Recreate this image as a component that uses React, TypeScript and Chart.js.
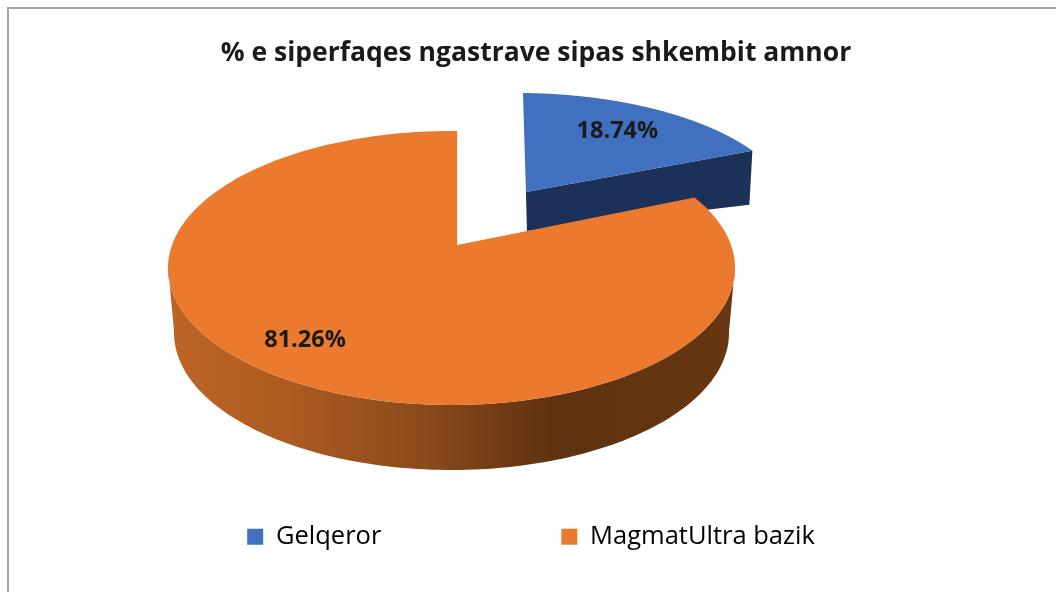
import React, { useEffect, useRef } from "react";
import { Chart, registerables } from "chart.js";

Chart.register(...registerables);

const categories = ["Gelqeror", "MagmatUltra bazik"];
const shares = [18.74, 81.26];
const percentLabels = ["18.74%", "81.26%"];
const faceColors = ["#4170C1", "#EB7A2F"];
const titleText = "% e siperfaqes ngastrave sipas shkembit amnor";

type Geo = { cx: number; cy: number; rx: number; ry: number; depthOuter: number; skew: number };

// normalised position of the apex inside the ellipse (perspective shift)
const AX = 0.02;
const AY = -0.168;
const GEOS: Geo[] = [
  { cx: 520.5, cy: 212, rx: 272, ry: 119, depthOuter: 54, skew: 0.03 },
  { cx: 451.5, cy: 268, rx: 283.5, ry: 137, depthOuter: 65, skew: 0 },
];

function apex(g: Geo) {
  return { x: g.cx + g.rx * AX, y: g.cy + g.ry * AY };
}

function pt(g: Geo, angle: number) {
  const dx = Math.cos(angle);
  const dy = Math.sin(angle);
  const ad = AX * dx + AY * dy;
  const s = -ad + Math.sqrt(ad * ad + 1 - (AX * AX + AY * AY));
  const y = g.cy + g.ry * (AY + s * dy);
  const a = apex(g);
  return { x: g.cx + g.rx * (AX + s * dx) - g.skew * (a.y - y), y };
}

const legendPlacement = {
  id: "legendPlacement",
  afterLayout(chart: any) {
    const legend = chart.legend;
    const pad = legend.options.labels.padding;
    legend.top = 524 - pad;
    legend.bottom = legend.top + legend.height;
    legend.left -= 5;
    legend.right -= 5;
  },
};

const pie3d = {
  id: "pie3d",
  afterDatasetsDraw(chart: any) {
    const ctx = chart.ctx as CanvasRenderingContext2D;
    const arcs = chart.getDatasetMeta(0).data as any[];
    const N = 240;
    const sample = (i: number) => {
      const a = arcs[i];
      const out = [];
      for (let k = 0; k <= N; k++) {
        out.push(pt(GEOS[i], a.startAngle + ((a.endAngle - a.startAngle) * k) / N));
      }
      return out;
    };
    ctx.save();
    // Blue slice: inner wall then face
    {
      const g = GEOS[0];
      const p = sample(0);
      const { x: ax, y: ay } = apex(g);
      const end = p[p.length - 1];
      ctx.fillStyle = "#1B3158";
      ctx.beginPath();
      ctx.moveTo(ax, ay);
      ctx.lineTo(end.x, end.y);
      ctx.lineTo(end.x - 3, end.y + g.depthOuter);
      ctx.lineTo(ax + 1, ay + 39);
      ctx.closePath();
      ctx.fill();
      ctx.fillStyle = faceColors[0];
      ctx.beginPath();
      ctx.moveTo(ax, ay);
      p.forEach((q) => ctx.lineTo(q.x, q.y));
      ctx.closePath();
      ctx.fill();
    }
    // Orange slice: outer wall then face
    {
      const g = GEOS[1];
      const p = sample(1);
      const { x: ax, y: ay } = apex(g);
      const grad = ctx.createLinearGradient(g.cx - g.rx, 0, g.cx + g.rx, 0);
      grad.addColorStop(0, "#BD6526");
      grad.addColorStop(0.2, "#AE5C22");
      grad.addColorStop(0.45, "#8A4A1B");
      grad.addColorStop(0.68, "#5F3210");
      grad.addColorStop(1, "#663711");
      ctx.fillStyle = grad;
      const front = p.filter((q) => q.y >= g.cy - 2);
      ctx.beginPath();
      front.forEach((q, i) => (i ? ctx.lineTo(q.x, q.y) : ctx.moveTo(q.x, q.y)));
      for (let i = front.length - 1; i >= 0; i--) {
        const q = front[i];
        const shrink = (q.x - g.cx) / g.rx;
        ctx.lineTo(q.x - 6 * shrink, q.y + g.depthOuter);
      }
      ctx.closePath();
      ctx.fill();
      ctx.fillStyle = faceColors[1];
      ctx.beginPath();
      ctx.moveTo(ax, ay);
      p.forEach((q) => ctx.lineTo(q.x, q.y));
      ctx.closePath();
      ctx.fill();
    }
    // Value labels, placed from each slice's mid angle
    ctx.font = "bold 23.5px 'Open Sans'";
    ctx.fillStyle = "#1A1A1A";
    ctx.textAlign = "center";
    ctx.textBaseline = "middle";
    const labelFactor = [0.73, 0.77];
    const labelAngleShift = [0, 0.068];
    arcs.forEach((a, i) => {
      const g = GEOS[i];
      const mid = (a.startAngle + a.endAngle) / 2 + labelAngleShift[i];
      const q = pt(g, mid);
      const { x: ax, y: ay } = apex(g);
      ctx.fillText(percentLabels[i], ax + (q.x - ax) * labelFactor[i], ay + (q.y - ay) * labelFactor[i]);
    });
    ctx.restore();
    // Frame: top and left lines only
    ctx.save();
    ctx.strokeStyle = "#A6A6A6";
    ctx.lineWidth = 2;
    ctx.beginPath();
    ctx.moveTo(8, 592);
    ctx.lineTo(8, 8);
    ctx.lineTo(1056, 8);
    ctx.stroke();
    ctx.restore();
  },
};

export default function App() {
  const ref = useRef<HTMLCanvasElement>(null);
  useEffect(() => {
    document.body.style.margin = "0";
    const chart = new Chart(ref.current!, {
      type: "pie",
      data: {
        labels: categories,
        datasets: [
          {
            data: shares,
            backgroundColor: "rgba(0,0,0,0)",
            borderWidth: 0,
          },
        ],
      },
      options: {
        responsive: false,
        animation: false,
        layout: { padding: { top: 38, left: 16 } },
        plugins: {
          title: {
            display: true,
            text: titleText,
            color: "#1A1A1A",
            font: { family: "'Open Sans'", size: 26.5, weight: "bold" },
            padding: { top: 0, bottom: 4 },
          },
          legend: {
            position: "bottom",
            labels: {
              boxWidth: 16,
              boxHeight: 16,
              padding: 180,
              color: "#333333",
              font: { family: "'Open Sans'", size: 25.5 },
              generateLabels: () =>
                categories.map((c, i) => ({
                  text: c,
                  fillStyle: faceColors[i],
                  strokeStyle: faceColors[i],
                  lineWidth: 0,
                  index: i,
                  hidden: false,
                })),
            },
          },
          tooltip: { enabled: false },
        },
      },
      plugins: [legendPlacement, pie3d],
    } as any);
    return () => chart.destroy();
  }, []);
  return <canvas ref={ref} width={1056} height={592} style={{ display: "block" }} />;
}
